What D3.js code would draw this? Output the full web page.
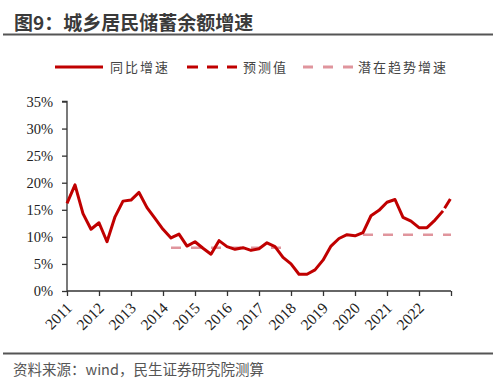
<!DOCTYPE html>
<html><head><meta charset="utf-8">
<script src="https://cdn.jsdelivr.net/npm/d3@7"></script>
<style>body{margin:0;background:#fff}</style>
</head><body>
<svg id="c" width="500" height="391"></svg>
<script>
// Quarterly periods starting 2011Q1 (position = year + quarter index * 0.25)
const startYear = 2011;
const yoy = [16.2,19.6,14.3,11.4,12.6,9.1,13.7,16.6,16.8,18.2,15.4,13.4,
  11.4,9.8,10.5,8.3,9.1,7.9,6.8,9.3,8.2,7.7,8.0,7.5,
  7.8,8.9,8.2,6.2,5.0,3.1,3.1,3.9,5.7,8.3,9.7,10.4,
  10.2,10.8,13.9,14.9,16.4,16.9,13.6,12.9,11.7,11.7,13.1,14.8];
const forecastT = [2022.75, 2023.0];
const forecastV = [14.8, 17.2];
const trend1T = [2014.25, 2018.0];
const trend1V = [8.0, 8.0];
const trend2T = [2020.25, 2023.0];
const trend2V = [10.4, 10.4];
const yearTicks = [2011,2012,2013,2014,2015,2016,2017,2018,2019,2020,2021,2022,2023];
const yearLabels = ["2011","2012","2013","2014","2015","2016","2017","2018","2019","2020","2021","2022"];
const yTicks = [0,5,10,15,20,25,30,35];
const title = "图9：城乡居民储蓄余额增速";
const source = "资料来源：wind，民生证券研究院测算";
const legendNames = ["同比增速","预测值","潜在趋势增速"];

const svg = d3.select("#c");
const red = "#C00000", pink = "#E0959D";
const cjk = "'Noto Sans CJK SC', 'Noto Sans', sans-serif";
const serif = "'Liberation Serif', 'Times New Roman', serif";

const x = d3.scaleLinear().domain([2011, 2023]).range([67, 451]);
const y = d3.scaleLinear().domain([0, 35]).range([291, 101.5]);

// title
svg.append("text").attr("x", 14).attr("y", 30).text(title)
  .attr("font-family", cjk).attr("font-weight", "bold").attr("font-size", 19).attr("fill", "#3a3a3a");
svg.append("line").attr("x1", 3).attr("x2", 493).attr("y1", 34.5).attr("y2", 34.5)
  .attr("stroke", "#555").attr("stroke-width", 2);

// footer
svg.append("line").attr("x1", 3).attr("x2", 493).attr("y1", 353.5).attr("y2", 353.5)
  .attr("stroke", "#555").attr("stroke-width", 2);
svg.append("text").attr("x", 13).attr("y", 375).text(source)
  .attr("font-family", cjk).attr("font-size", 14.5).attr("fill", "#555");

// axes
const yAxis = d3.axisLeft(y).tickValues(yTicks).tickFormat(d => d + "%").tickSize(5).tickPadding(9);
const gy = svg.append("g").attr("transform", "translate(67,0)").call(yAxis);
gy.selectAll("text").attr("font-family", serif).attr("font-size", 14.5).attr("fill", "#222");
gy.selectAll("line, path").attr("stroke", "#333").attr("stroke-width", 1.3);
gy.select("path").attr("d", `M-5,${y(35)}H0V${y(0)}`);

const xAxis = d3.axisBottom(x).tickValues(yearTicks).tickFormat("").tickSize(5);
const gx = svg.append("g").attr("transform", "translate(0,291)").call(xAxis);
gx.selectAll("line, path").attr("stroke", "#333").attr("stroke-width", 1.3);
gx.select("path").attr("d", `M${x(2011)},0H${x(2023)}`);
svg.append("g").selectAll("text").data(yearLabels).join("text")
  .attr("transform", d => `translate(${x(+d) + 6},${309}) rotate(-45)`)
  .attr("text-anchor", "end")
  .attr("font-family", serif).attr("font-size", 15.5).attr("fill", "#222")
  .text(d => d);

// lines
const line = d3.line().x(d => x(d[0])).y(d => y(d[1]));
const trendStyle = g => g.attr("fill", "none").attr("stroke", pink).attr("stroke-width", 2.5).attr("stroke-dasharray", "10,10");
svg.append("path").datum(trend1T.map((t, i) => [t, trend1V[i]])).attr("d", line).call(trendStyle);
svg.append("path").datum(trend2T.map((t, i) => [t, trend2V[i]])).attr("d", line).call(trendStyle);
svg.append("path").datum(yoy.map((v, i) => [startYear + i * 0.25, v])).attr("d", line)
  .attr("fill", "none").attr("stroke", red).attr("stroke-width", 3).attr("stroke-linejoin", "round");
svg.append("path").datum(forecastT.map((t, i) => [t, forecastV[i]])).attr("d", line)
  .attr("fill", "none").attr("stroke", red).attr("stroke-width", 3)
  .attr("stroke-dasharray", "0,3,11,9");

// legend
const lg = svg.append("g");
const leg = [
  {x1: 55, x2: 103, tx: 110, color: red, dash: null, w: 3},
  {x1: 187, x2: 237, tx: 243, color: red, dash: "11,9", w: 3},
  {x1: 303, x2: 353, tx: 358, color: pink, dash: "10,10", w: 3}
];
leg.forEach((l, i) => {
  lg.append("line").attr("x1", l.x1).attr("x2", l.x2).attr("y1", 67).attr("y2", 67)
    .attr("stroke", l.color).attr("stroke-width", l.w).attr("stroke-dasharray", l.dash);
  lg.append("text").attr("x", l.tx).attr("y", 67).attr("dy", "0.35em").text(legendNames[i])
    .attr("font-family", cjk).attr("font-size", 13).attr("letter-spacing", 2).attr("fill", "#444");
});
</script>
</body></html>
